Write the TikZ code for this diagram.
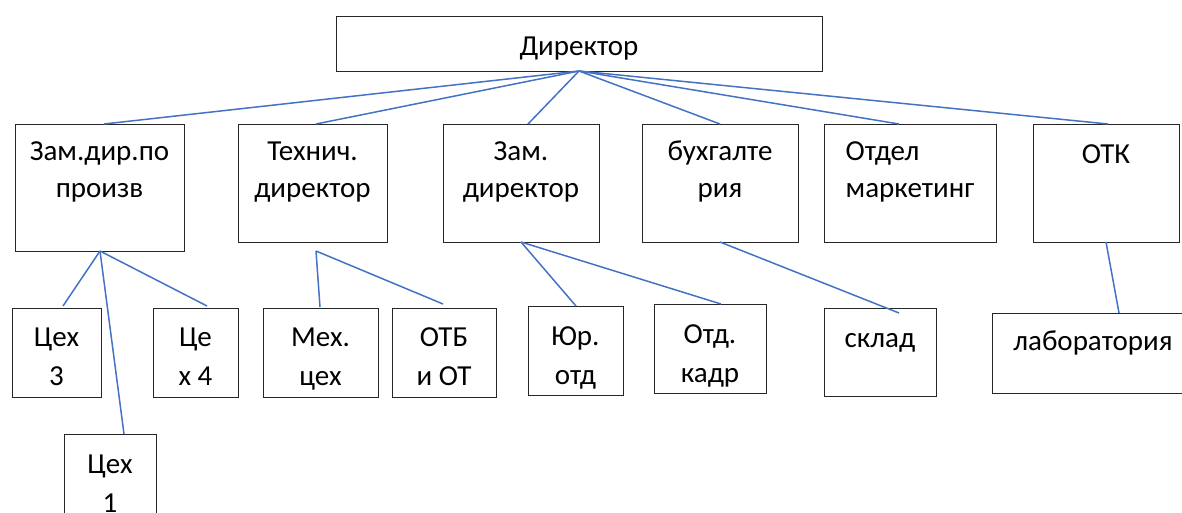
\documentclass[tikz,border=0pt]{standalone}
\usepackage{fontspec}
\setmainfont{Carlito}
\usetikzlibrary{calc}
\tikzset{
  box/.style={draw=black!85, line width=1pt, rectangle, inner sep=0pt, anchor=north west},
  txt/.style={font=\fontsize{29}{37}\selectfont, align=center, inner sep=0pt, anchor=north},
  txtb/.style={font=\fontsize{29}{39}\selectfont, align=center, inner sep=0pt, anchor=north},
  link/.style={draw={rgb,255:red,68;green,114;blue,196}, line width=1.5pt}
}
\begin{document}
\begin{tikzpicture}[x=1pt,y=-1pt]
\useasboundingbox (0,0) rectangle (1182,512);
\clip (0,0) rectangle (1182,512);
% boxes
\node[box, minimum width=486, minimum height=55] (dir) at (336,16) {};
\node[box, minimum width=169, minimum height=127] (zam) at (15,124) {};
\node[box, minimum width=149, minimum height=118] (tech) at (238,124) {};
\node[box, minimum width=156, minimum height=118] (zd) at (443,124) {};
\node[box, minimum width=156, minimum height=118] (buh) at (642,124) {};
\node[box, minimum width=172, minimum height=118] (mark) at (824,124) {};
\node[box, minimum width=146, minimum height=118] (otk) at (1033,124) {};
\node[box, minimum width=89, minimum height=89] (c3) at (12,308) {};
\node[box, minimum width=85, minimum height=89] (c4) at (153,308) {};
\node[box, minimum width=92, minimum height=100] (c1) at (64,434) {};
\node[box, minimum width=115, minimum height=89] (mech) at (263,308) {};
\node[box, minimum width=104, minimum height=89] (otb) at (392,308) {};
\node[box, minimum width=95, minimum height=89] (yur) at (528,306) {};
\node[box, minimum width=112, minimum height=89] (kadr) at (654,304) {};
\node[box, minimum width=112, minimum height=88] (sklad) at (824,308) {};
\node[box, minimum width=202, minimum height=80] (lab) at (992,313) {};
% texts
\node[txt] (tdir) at (579,29.1) {\strut Директор};
\node[txt] (tzam) at (99.5,134.1) {\strut Зам.дир.по\\\strut произв};
\node[txt] (ttech) at (312.5,134.1) {\strut Технич.\\\strut директор};
\node[txt] (tzd) at (521,134.1) {\strut Зам.\\\strut директор};
\node[txt] (tbuh) at (720,134.1) {\strut бухгалте\\\strut рия};
\node[txt, align=left] (tmark) at (910,134.1) {\strut Отдел\\\strut маркетинг};
\node[txt] (totk) at (1106,137.1) {\strut ОТК};
\node[txtb] (tc3) at (56.5,318.7) {\strut Цех\\\strut 3};
\node[txtb] (tc4) at (195.5,318.7) {\strut Це\\\strut х 4};
\node[txtb] (tc1) at (110,445.7) {\strut Цех\\\strut 1};
\node[txtb] (tmech) at (320.5,318.7) {\strut Мех.\\\strut цех};
\node[txtb] (totb) at (444,318.7) {\strut ОТБ\\\strut и ОТ};
\node[txtb] (tyur) at (575.5,317.7) {\strut Юр.\\\strut отд};
\node[txtb] (tkadr) at (710,315.7) {\strut Отд.\\\strut кадр};
\node[txtb] (tsklad) at (880,319.7) {\strut склад};
\node[txtb] (tlab) at (1093,322.7) {\strut лаборатория};
% connectors
\coordinate (dirb) at ($(dir.north west)+(243,55)$);
\draw[link] (dirb) -- ($(zam.north west)+(89,0)$);
\draw[link] (dirb) -- ($(tech.north west)+(78,0)$);
\draw[link] (dirb) -- ($(zd.north west)+(85,0)$);
\draw[link] (dirb) -- ($(buh.north west)+(78,0)$);
\draw[link] (dirb) -- ($(mark.north west)+(75,0)$);
\draw[link] (dirb) -- ($(otk.north west)+(75,0)$);
\coordinate (zamb) at ($(zam.north west)+(85,127)$);
\draw[link] (zamb) -- ($(c3.north west)+(51,-2)$);
\draw[link] (zamb) -- ($(c1.north west)+(60,0)$);
\draw[link] (zamb) -- ($(c4.north west)+(54,-2)$);
\coordinate (techb) at ($(tech.north west)+(78,127)$);
\draw[link] (techb) -- ($(mech.north west)+(57,-1)$);
\draw[link] (techb) -- ($(otb.north west)+(51,-4)$);
\coordinate (zdb) at ($(zd.north west)+(78,118)$);
\draw[link] (zdb) -- ($(yur.north west)+(48,0)$);
\draw[link] (zdb) -- ($(kadr.north west)+(67,0)$);
\draw[link] ($(buh.north west)+(78,118)$) -- ($(sklad.north west)+(75,5)$);
\draw[link] ($(otk.north west)+(73,118)$) -- ($(lab.north west)+(127,0)$);
\end{tikzpicture}
\end{document}
